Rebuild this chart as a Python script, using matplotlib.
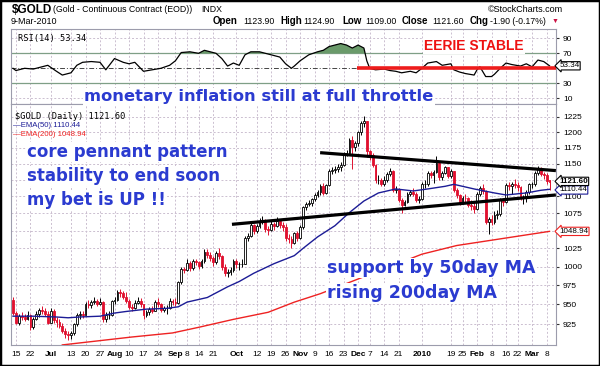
import numpy as np
import matplotlib
matplotlib.use("Agg")
from matplotlib import pyplot as plt
from matplotlib.patches import Rectangle
from matplotlib.ticker import NullLocator, FixedLocator

W, H = 600, 366


def fx(x):
    # pixel x -> figure fraction
    return x / W


def fy(y):
    return 1 - y / H


# daily bars, Jun 12 2009 .. Mar 9 2010 (trading days only)
closes = [939,
          927, 935, 934, 932, 937,          # Jun 15
          921, 932, 938, 943, 941,          # Jun 22
          938, 927, 942, 930,               # Jun 29
          928, 923, 917, 913, 912,          # Jul 6
          914, 925, 936, 938, 937,          # Jul 13
          950, 949, 953, 954, 951,          # Jul 20
          953, 931, 937, 937, 954,          # Jul 27
          956, 966, 965, 960, 955,          # Aug 3
          947, 945, 952, 955, 950,          # Aug 10
          936, 940, 944, 942, 953,          # Aug 17
          950, 943, 945, 945, 955,          # Aug 24
          953, 952, 979, 997, 996,          # Aug 31
          1005, 998, 1007, 1006,            # Sep 8
          1001, 1007, 1020, 1016, 1012,     # Sep 14
          1006, 1018, 1014, 1000, 991,      # Sep 21
          993, 996, 1008, 1003, 1003,       # Sep 28
          1004, 1040, 1043, 1058, 1049,     # Oct 5
          1057, 1064, 1065, 1052, 1051,     # Oct 12
          1060, 1057, 1064, 1058, 1055,     # Oct 19
          1040, 1038, 1033, 1046, 1040,     # Oct 26
          1055, 1084, 1088, 1090, 1096,     # Nov 2
          1102, 1106, 1116, 1105, 1117,     # Nov 9
          1139, 1140, 1142, 1144, 1147,     # Nov 16
          1165, 1167, 1187, 1176,           # Nov 23
          1182, 1200, 1215, 1218, 1169,     # Nov 30
          1164, 1148, 1125, 1125, 1119,     # Dec 7
          1125, 1134, 1138, 1110, 1111,     # Dec 14
          1094, 1087, 1092, 1104,           # Dec 21
          1107, 1104, 1095, 1096,           # Dec 28
          1118, 1118, 1136, 1132, 1137,     # Jan 4
          1151, 1129, 1136, 1144, 1131,     # Jan 11
          1138, 1110, 1102, 1091,           # Jan 19
          1098, 1097, 1087, 1085, 1081,     # Jan 25
          1104, 1112, 1108, 1063, 1066,     # Feb 1
          1063, 1073, 1074, 1096, 1091,     # Feb 8
          1117, 1115, 1118, 1117,           # Feb 16
          1114, 1098, 1099, 1107, 1118,     # Feb 22
          1118, 1136, 1141, 1133, 1132,     # Mar 1
          1123.5, 1121.6]                   # Mar 8

highs = [960,
         941, 938, 940, 938, 941,
         938, 934, 942, 946, 948,
         945, 941, 946, 944,
         934, 931, 926, 920, 917,
         916, 927, 939, 941, 942,
         953, 956, 956, 959, 957,
         958, 954, 940, 942, 956,
         960, 969, 970, 968, 966,
         957, 951, 956, 960, 958,
         951, 943, 947, 948, 956,
         958, 952, 948, 949, 958,
         957, 958, 981, 999, 1000,
         1010, 1007, 1010, 1011,
         1008, 1010, 1024, 1024, 1020,
         1014, 1022, 1026, 1016, 1003,
         997, 999, 1011, 1010, 1006,
         1010, 1043, 1047, 1062, 1060,
         1060, 1068, 1071, 1067, 1057,
         1064, 1063, 1069, 1067, 1062,
         1059, 1045, 1042, 1048, 1050,
         1058, 1086, 1092, 1095, 1098,
         1105, 1110, 1118, 1120, 1119,
         1141, 1145, 1146, 1150, 1152,
         1168, 1172, 1190, 1194,
         1185, 1202, 1218, 1226, 1219,
         1172, 1166, 1150, 1132, 1128,
         1130, 1137, 1143, 1140, 1116,
         1113, 1097, 1095, 1106,
         1110, 1112, 1106, 1100,
         1121, 1124, 1139, 1138, 1140,
         1161, 1153, 1139, 1146, 1145,
         1141, 1139, 1113, 1104,
         1101, 1104, 1099, 1095, 1091,
         1106, 1116, 1118, 1110, 1070,
         1072, 1078, 1080, 1098, 1098,
         1120, 1122, 1121, 1126,
         1122, 1116, 1102, 1110, 1120,
         1121, 1138, 1146, 1144, 1137,
         1136, 1124.9]

lows = [936,
        925, 924, 930, 929, 930,
        918, 919, 930, 934, 938,
        935, 925, 926, 927,
        922, 920, 914, 908, 905,
        906, 911, 923, 932, 933,
        936, 945, 946, 950, 948,
        949, 928, 928, 932, 935,
        950, 955, 960, 957, 952,
        944, 941, 944, 950, 947,
        932, 934, 937, 939, 941,
        947, 940, 940, 938, 944,
        949, 948, 951, 977, 991,
        994, 994, 996, 1002,
        997, 998, 1005, 1012, 1008,
        1001, 1004, 1011, 996, 987,
        986, 989, 993, 998, 996,
        1000, 1003, 1035, 1041, 1045,
        1047, 1054, 1060, 1048, 1044,
        1049, 1051, 1055, 1054, 1050,
        1036, 1033, 1025, 1031, 1036,
        1038, 1053, 1080, 1085, 1086,
        1093, 1099, 1102, 1102, 1103,
        1115, 1133, 1136, 1137, 1138,
        1146, 1161, 1165, 1142,
        1170, 1178, 1196, 1208, 1160,
        1156, 1144, 1120, 1118, 1115,
        1116, 1122, 1130, 1106, 1105,
        1091, 1075, 1085, 1090,
        1100, 1100, 1091, 1090,
        1094, 1113, 1115, 1127, 1120,
        1135, 1125, 1125, 1133, 1128,
        1128, 1106, 1098, 1087,
        1089, 1092, 1084, 1080, 1076,
        1080, 1101, 1104, 1060, 1045,
        1058, 1060, 1066, 1071, 1086,
        1090, 1110, 1104, 1112,
        1108, 1094, 1089, 1092, 1104,
        1112, 1116, 1132, 1130, 1126,
        1118, 1109]

# futures bars open near the prior close; first and last opens as quoted
opens = [956] + closes[:-1]
opens[-1] = 1123.9

# moving averages (trading-day index, value)
ema50_idx = [0, 7, 15, 19, 23, 30, 35, 39, 46, 53, 57, 60, 67, 74, 78, 83, 90, 97,
             100, 105, 111, 116, 121, 126, 132, 138, 143, 149, 152, 159, 166, 170,
             177, 182, 185]
ema50_val = [935, 935, 934, 933, 934, 935, 939, 941, 944, 945, 947, 953, 959, 973,
             980, 991, 1004, 1015, 1025, 1041, 1057, 1076, 1093, 1105, 1111, 1108,
             1111, 1115, 1118, 1111, 1105, 1102, 1105, 1109, 1110.44]

ema200_idx = [17, 41, 55, 64, 76, 88, 97, 106, 141, 153, 185]
ema200_val = [899.3, 909, 914, 921, 931, 940, 953, 964, 1017, 1029, 1048.94]

rsi_idx = [0, 1, 4, 7, 10, 12, 15, 17, 20, 22, 24, 27, 30, 32, 35, 38, 40, 42, 45,
           48, 51, 54, 56, 58, 61, 64, 66, 68, 70, 72, 74, 76, 78, 80, 82, 85, 88,
           90, 92, 94, 96, 97, 99, 102, 105, 107, 109, 111, 113, 115, 117, 119, 121,
           122, 123, 125, 128, 130, 132, 134, 137, 139, 141, 143, 146, 148, 151, 152,
           154, 156, 159, 160, 161, 163, 165, 166, 168, 170, 172, 175, 177, 179, 181,
           183, 185]
rsi_val = [50, 47, 50, 49, 52, 54, 46, 41, 44, 54, 58, 59, 58, 48, 63, 58, 56, 58, 46,
           48, 50, 54, 60, 71, 72, 70, 74, 72, 70, 63, 53, 57, 54, 68, 72, 72, 69,
           67, 65, 56, 50, 53, 60, 68, 72, 74, 79, 81, 83, 81, 77, 81, 77,
           60, 50, 48, 49, 47, 46, 44, 46, 44, 50, 57, 59, 54, 56, 48,
           45, 43, 41, 48, 52, 39, 39, 42, 50, 57, 55, 53, 56, 52, 61,
           59, 53.34]

tick_pos = [1, 6, 13, 20, 25, 30, 35, 40, 45, 50, 56, 60, 64, 69, 77, 84, 89, 94,
            99, 104, 109, 114, 119, 123, 128, 133, 141, 151, 155, 160, 165, 170, 174,
            179, 184]
tick_lab = ['15', '22', 'Jul', '13', '20', '27', 'Aug', '10', '17', '24', 'Sep', '8',
            '14', '21', 'Oct', '12', '19', '26', 'Nov', '9', '16', '23', 'Dec', '7',
            '14', '21', '2010', '19', '25', 'Feb', '8', '16', '22', 'Mar', '8']
months = ['Jul', 'Aug', 'Sep', 'Oct', 'Nov', 'Dec', '2010', 'Feb', 'Mar']

price_ticks = [925, 950, 975, 1000, 1025, 1050, 1075, 1100, 1125, 1150, 1175, 1200, 1225]
hidden_ticks = [1050, 1125]   # covered by the value tags on the chart
rsi_ticks = [90, 70, 30, 10]

# hand drawn pennant lines (index, price)
upper_line = ([105.9, 187.2], [1167, 1139])
lower_line = ([75.5, 187.2], [1059, 1102])

plt.rcParams['font.family'] = ['Liberation Sans', 'DejaVu Sans']

BLUE = '#2b3bd0'
RED = '#e0102f'
GRID = '#cbbfd0'
XLIM = (-0.69, 187.24)

fig = plt.figure(figsize=(6.0, 3.66), dpi=100)
top_main = 104
ax_rsi = fig.add_axes([fx(11), fy(top_main), (556 - 11) / W, (top_main - 29) / H])
ax = fig.add_axes([fx(11), fy(345), (556 - 11) / W, (345 - top_main) / H])

for a in (ax, ax_rsi):
    for s in a.spines.values():
        s.set_color('#9c9cac')
        s.set_linewidth(0.8)
    a.set_xlim(*XLIM)
    for p in tick_pos:
        a.axvline(p, color=GRID, lw=0.7, ls=(0, (2, 2)), zorder=0)

# ---- RSI panel
ax_rsi.set_ylim(2.4, 102.4)
for lvl in (90, 10):
    ax_rsi.axhline(lvl, color=GRID, lw=0.7, ls=(0, (2, 2)), zorder=0)
for lvl in (70, 30):
    ax_rsi.axhline(lvl, color='#7f9f86', lw=0.9, zorder=1)
ax_rsi.axhline(50, color='#444444', lw=0.7, ls=(0, (5, 2, 1, 2)), zorder=1)
rx = np.array(rsi_idx)
ry = np.array(rsi_val)
ax_rsi.fill_between(rx, ry, 70, where=ry > 70, interpolate=True,
                    color='#6a9a6a', lw=0, zorder=2)
ax_rsi.plot(rx, ry, color='black', lw=0.9, zorder=3)
ax_rsi.plot([118.6, 187.2], [50, 50], color='#ee1c1c', lw=2.6, zorder=4,
            solid_capstyle='butt')
ax_rsi.yaxis.tick_right()
ax_rsi.set_yticks(rsi_ticks)
ax_rsi.set_yticklabels([str(t) for t in rsi_ticks], fontsize=6)
ax_rsi.tick_params(axis='y', length=2, pad=3, colors='#333333', labelcolor='black')
ax_rsi.set_xticks([])
ax_rsi.text(0.013, 0.93, 'RSI(14) 53.34', transform=ax_rsi.transAxes, fontsize=6.3,
            family='DejaVu Sans Mono', va='top', ha='left')

# ---- price panel
ax.set_yscale('log')
ax.set_ylim(899.2, 1246.6)
ax.yaxis.set_minor_locator(NullLocator())
ax.yaxis.set_major_locator(FixedLocator(price_ticks))
ax.set_yticklabels(['' if t in hidden_ticks else str(t) for t in price_ticks],
                   fontsize=6)
ax.yaxis.tick_right()
ax.tick_params(axis='y', length=2, pad=3, colors='#333333', labelcolor='black')
for p in price_ticks:
    ax.axhline(p, color=GRID, lw=0.7, ls=(0, (2, 2)), zorder=0)

x = np.arange(len(closes))
o = np.array(opens, dtype=float)
c = np.array(closes, dtype=float)
hi = np.array(highs, dtype=float)
lo = np.array(lows, dtype=float)
up = c >= o
col = np.where(up, 'black', RED)
ax.vlines(x, lo, hi, colors=col, lw=0.7, zorder=3)
ax.bar(x[up], np.abs(c - o)[up], bottom=np.minimum(o, c)[up], width=0.62,
       facecolor='white', edgecolor='black', lw=0.6, zorder=4)
ax.bar(x[~up], np.abs(c - o)[~up], bottom=np.minimum(o, c)[~up], width=0.62,
       facecolor=RED, edgecolor=RED, lw=0.6, zorder=4)

ax.plot(ema50_idx, ema50_val, color='#1c1c96', lw=1.0, zorder=5)
ax.plot(ema200_idx, ema200_val, color='#ee2222', lw=1.0, zorder=5)

ax.plot(*upper_line, color='black', lw=2.3, zorder=6, solid_capstyle='butt')
ax.plot(*lower_line, color='black', lw=2.3, zorder=6, solid_capstyle='butt')

ax.set_xticks(tick_pos)
ax.set_xticklabels(tick_lab, fontsize=6)
for lab in ax.get_xticklabels():
    if lab.get_text() in months:
        lab.set_fontweight('bold')
ax.tick_params(axis='x', length=0, pad=4)

ax.text(0.008, 0.95, '$GOLD (Daily) 1121.60', transform=ax.transAxes, fontsize=6.3,
        family='DejaVu Sans Mono', va='center', ha='left')
ax.text(0.004, 0.912, '\u2014EMA(50) 1110.44', transform=ax.transAxes, fontsize=5.6,
        color='#1c1c96', va='center', ha='left')
ax.text(0.004, 0.875, '\u2014EMA(200) 1048.94', transform=ax.transAxes, fontsize=5.6,
        color='#ee2222', va='center', ha='left')


def tag(a, val, txt, edge, weight='normal'):
    a.text(1.006, val, txt, transform=a.get_yaxis_transform(), fontsize=5.8,
           fontweight=weight, va='center', ha='left', zorder=10, clip_on=False,
           bbox=dict(boxstyle='larrow,pad=0.08', facecolor='white', edgecolor=edge,
                     lw=0.8))


tag(ax, 1048.94, '1048.94', '#ee2222')
tag(ax, 1109.5, '1110.44', '#1c1c96')
tag(ax, 1122.5, '1121.60', 'black', 'bold')
tag(ax_rsi, 53.34, '53.34', 'black')

# ---- header
fig.text(fx(12), fy(10), '$GOLD', fontsize=8.5, fontweight='bold', va='center')
fig.text(fx(53), fy(10), '(Gold - Continuous Contract (EOD))', fontsize=6.3, va='center')
fig.text(fx(201), fy(10), 'INDX', fontsize=6.3, va='center')
fig.text(fx(563), fy(10), '\u00a9StockCharts.com', fontsize=6.5, va='center', ha='right')
fig.text(fx(11), fy(21), '9-Mar-2010', fontsize=6.5, va='center')
header = [(213, 'Open', True), (243, '1123.90', False), (280, 'High', True),
          (303, '1124.90', False), (342, 'Low', True), (365, '1109.00', False),
          (402, 'Close', True), (432, '1121.60', False), (470, 'Chg', True),
          (490, '-1.90 (-0.17%)', False)]
for px, t, b in header:
    fig.text(fx(px), fy(21), t, fontsize=7 if b else 6.3,
             fontweight='bold' if b else 'normal', va='center')
fig.text(fx(552), fy(21), '\u25bc', fontsize=5, color='#cc1144', va='center')

# ---- annotations
box = dict(facecolor='white', edgecolor='none', pad=1)
fig.text(fx(259), fy(97), 'monetary inflation still at full throttle', fontsize=11.8,
         fontweight='bold', color=BLUE, family='DejaVu Sans', ha='center',
         va='center', bbox=box, zorder=20)
for i, line in enumerate(['core pennant pattern', 'stability to end soon',
                          'my bet is UP !!']):
    fig.text(fx(27), fy(152 + 24 * i), line, fontsize=12, fontweight='bold',
             color=BLUE, family='DejaVu Sans', ha='left', va='center', bbox=box,
             zorder=20)
for i, line in enumerate(['support by 50day MA', 'rising 200day MA']):
    fig.text(fx(327), fy(268 + 25 * i), line, fontsize=12.5, fontweight='bold',
             color=BLUE, family='DejaVu Sans', ha='left', va='center', bbox=box,
             zorder=20)
fig.text(fx(424), fy(46), 'EERIE STABLE', fontsize=10, fontweight='bold',
         color='#ee1111', ha='left', va='center', bbox=box, zorder=20)

fig.patches.append(Rectangle((0, 0), 1, 1, transform=fig.transFigure, fill=False,
                             edgecolor='black', lw=2.5))

fig.savefig('out.png', dpi=100)
